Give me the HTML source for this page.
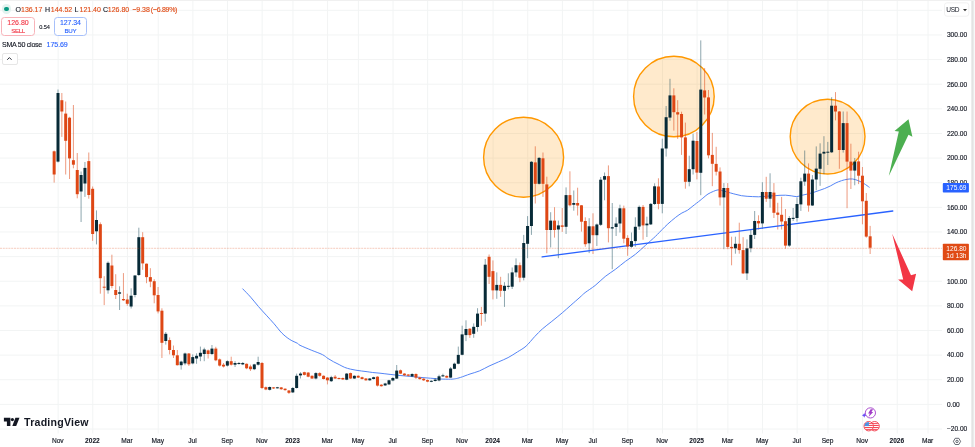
<!DOCTYPE html>
<html><head><meta charset="utf-8"><title>SOL chart</title>
<style>html,body{margin:0;padding:0;background:#fff;}body{width:975px;height:447px;position:relative;overflow:hidden;}</style>
</head><body>
<svg width="975" height="447" viewBox="0 0 975 447" style="position:absolute;left:0;top:0">
<rect x="0" y="0" width="975" height="447" fill="#ffffff"/>
<line x1="0" y1="10.32" x2="942" y2="10.32" stroke="#f2f4f4" stroke-width="1"/>
<line x1="0" y1="34.95" x2="942" y2="34.95" stroke="#f2f4f4" stroke-width="1"/>
<line x1="0" y1="59.58" x2="942" y2="59.58" stroke="#f2f4f4" stroke-width="1"/>
<line x1="0" y1="84.21" x2="942" y2="84.21" stroke="#f2f4f4" stroke-width="1"/>
<line x1="0" y1="108.83" x2="942" y2="108.83" stroke="#f2f4f4" stroke-width="1"/>
<line x1="0" y1="133.46" x2="942" y2="133.46" stroke="#f2f4f4" stroke-width="1"/>
<line x1="0" y1="158.09" x2="942" y2="158.09" stroke="#f2f4f4" stroke-width="1"/>
<line x1="0" y1="182.72" x2="942" y2="182.72" stroke="#f2f4f4" stroke-width="1"/>
<line x1="0" y1="207.35" x2="942" y2="207.35" stroke="#f2f4f4" stroke-width="1"/>
<line x1="0" y1="231.97" x2="942" y2="231.97" stroke="#f2f4f4" stroke-width="1"/>
<line x1="0" y1="256.60" x2="942" y2="256.60" stroke="#f2f4f4" stroke-width="1"/>
<line x1="0" y1="281.23" x2="942" y2="281.23" stroke="#f2f4f4" stroke-width="1"/>
<line x1="0" y1="305.86" x2="942" y2="305.86" stroke="#f2f4f4" stroke-width="1"/>
<line x1="0" y1="330.49" x2="942" y2="330.49" stroke="#f2f4f4" stroke-width="1"/>
<line x1="0" y1="355.11" x2="942" y2="355.11" stroke="#f2f4f4" stroke-width="1"/>
<line x1="0" y1="379.74" x2="942" y2="379.74" stroke="#f2f4f4" stroke-width="1"/>
<line x1="0" y1="404.37" x2="942" y2="404.37" stroke="#f2f4f4" stroke-width="1"/>
<line x1="0" y1="429.00" x2="942" y2="429.00" stroke="#f2f4f4" stroke-width="1"/>
<line x1="58.15" y1="1" x2="58.15" y2="433.5" stroke="#f2f4f4" stroke-width="1"/>
<line x1="92.79" y1="1" x2="92.79" y2="433.5" stroke="#f2f4f4" stroke-width="1"/>
<line x1="127.43" y1="1" x2="127.43" y2="433.5" stroke="#f2f4f4" stroke-width="1"/>
<line x1="158.22" y1="1" x2="158.22" y2="433.5" stroke="#f2f4f4" stroke-width="1"/>
<line x1="192.87" y1="1" x2="192.87" y2="433.5" stroke="#f2f4f4" stroke-width="1"/>
<line x1="227.51" y1="1" x2="227.51" y2="433.5" stroke="#f2f4f4" stroke-width="1"/>
<line x1="262.15" y1="1" x2="262.15" y2="433.5" stroke="#f2f4f4" stroke-width="1"/>
<line x1="292.94" y1="1" x2="292.94" y2="433.5" stroke="#f2f4f4" stroke-width="1"/>
<line x1="327.58" y1="1" x2="327.58" y2="433.5" stroke="#f2f4f4" stroke-width="1"/>
<line x1="358.37" y1="1" x2="358.37" y2="433.5" stroke="#f2f4f4" stroke-width="1"/>
<line x1="393.01" y1="1" x2="393.01" y2="433.5" stroke="#f2f4f4" stroke-width="1"/>
<line x1="427.65" y1="1" x2="427.65" y2="433.5" stroke="#f2f4f4" stroke-width="1"/>
<line x1="462.30" y1="1" x2="462.30" y2="433.5" stroke="#f2f4f4" stroke-width="1"/>
<line x1="493.09" y1="1" x2="493.09" y2="433.5" stroke="#f2f4f4" stroke-width="1"/>
<line x1="527.73" y1="1" x2="527.73" y2="433.5" stroke="#f2f4f4" stroke-width="1"/>
<line x1="562.37" y1="1" x2="562.37" y2="433.5" stroke="#f2f4f4" stroke-width="1"/>
<line x1="593.16" y1="1" x2="593.16" y2="433.5" stroke="#f2f4f4" stroke-width="1"/>
<line x1="627.80" y1="1" x2="627.80" y2="433.5" stroke="#f2f4f4" stroke-width="1"/>
<line x1="662.44" y1="1" x2="662.44" y2="433.5" stroke="#f2f4f4" stroke-width="1"/>
<line x1="697.08" y1="1" x2="697.08" y2="433.5" stroke="#f2f4f4" stroke-width="1"/>
<line x1="727.88" y1="1" x2="727.88" y2="433.5" stroke="#f2f4f4" stroke-width="1"/>
<line x1="762.52" y1="1" x2="762.52" y2="433.5" stroke="#f2f4f4" stroke-width="1"/>
<line x1="797.16" y1="1" x2="797.16" y2="433.5" stroke="#f2f4f4" stroke-width="1"/>
<line x1="827.95" y1="1" x2="827.95" y2="433.5" stroke="#f2f4f4" stroke-width="1"/>
<line x1="862.59" y1="1" x2="862.59" y2="433.5" stroke="#f2f4f4" stroke-width="1"/>
<line x1="897.23" y1="1" x2="897.23" y2="433.5" stroke="#f2f4f4" stroke-width="1"/>
<line x1="928.02" y1="1" x2="928.02" y2="433.5" stroke="#f2f4f4" stroke-width="1"/>
<circle cx="523.6" cy="157.2" r="40.0" fill="rgba(255,152,0,0.2)" stroke="#ff9800" stroke-width="1.4"/>
<circle cx="673.9" cy="96.5" r="40.3" fill="rgba(255,152,0,0.2)" stroke="#ff9800" stroke-width="1.4"/>
<circle cx="827.6" cy="136.6" r="37.4" fill="rgba(255,152,0,0.2)" stroke="#ff9800" stroke-width="1.4"/>
<path d="M242.50,288.60 C243.87,290.03 248.03,294.20 250.70,297.20 C253.37,300.20 255.90,303.60 258.50,306.60 C261.10,309.60 263.70,312.33 266.30,315.20 C268.90,318.07 271.48,320.80 274.10,323.80 C276.72,326.80 279.38,330.58 282.00,333.20 C284.62,335.82 287.20,337.80 289.80,339.50 C292.40,341.20 295.90,342.43 297.60,343.40 C299.30,344.37 297.73,344.18 300.00,345.30 C302.27,346.42 307.47,348.55 311.20,350.10 C314.93,351.65 319.60,353.20 322.40,354.60 C325.20,356.00 326.13,357.30 328.00,358.50 C329.87,359.70 331.73,360.78 333.60,361.80 C335.47,362.82 337.35,363.67 339.20,364.60 C341.05,365.53 342.85,366.65 344.70,367.40 C346.55,368.15 348.43,368.63 350.30,369.10 C352.17,369.57 354.03,369.88 355.90,370.20 C357.77,370.52 359.63,370.75 361.50,371.00 C363.37,371.25 365.23,371.45 367.10,371.70 C368.97,371.95 370.55,372.25 372.70,372.50 C374.85,372.75 377.10,372.88 380.00,373.20 C382.90,373.52 386.75,374.02 390.10,374.40 C393.45,374.78 396.75,375.17 400.10,375.50 C403.45,375.83 406.83,376.08 410.20,376.40 C413.57,376.72 416.95,377.10 420.30,377.40 C423.65,377.70 426.95,377.93 430.30,378.20 C433.65,378.47 437.03,378.83 440.40,379.00 C443.77,379.17 447.98,379.25 450.50,379.20 C453.02,379.15 453.82,379.00 455.50,378.70 C457.18,378.40 458.18,378.18 460.60,377.40 C463.02,376.62 466.85,375.08 470.00,374.00 C473.15,372.92 476.33,372.22 479.50,370.90 C482.67,369.58 485.83,367.60 489.00,366.10 C492.17,364.60 495.32,363.32 498.50,361.90 C501.68,360.48 504.92,359.28 508.10,357.60 C511.28,355.92 514.60,353.72 517.60,351.80 C520.60,349.88 523.25,348.63 526.10,346.10 C528.95,343.57 532.00,339.45 534.70,336.60 C537.40,333.75 539.45,331.53 542.30,329.00 C545.15,326.47 548.47,324.10 551.80,321.40 C555.13,318.70 559.12,315.50 562.30,312.80 C565.48,310.10 567.95,307.80 570.90,305.20 C573.85,302.60 577.63,299.30 580.00,297.20 C582.37,295.10 582.58,294.55 585.10,292.60 C587.62,290.65 591.75,288.18 595.10,285.50 C598.45,282.82 601.83,279.18 605.20,276.50 C608.57,273.82 611.93,271.92 615.30,269.40 C618.67,266.88 622.05,263.92 625.40,261.40 C628.75,258.88 632.05,256.98 635.40,254.30 C638.75,251.62 642.13,248.32 645.50,245.30 C648.87,242.28 652.80,238.85 655.60,236.20 C658.40,233.55 660.27,231.43 662.30,229.40 C664.33,227.37 665.57,226.02 667.80,224.00 C670.03,221.98 673.35,219.13 675.70,217.30 C678.05,215.47 679.95,214.17 681.90,213.00 C683.85,211.83 685.57,211.47 687.40,210.30 C689.23,209.13 690.80,207.63 692.90,206.00 C695.00,204.37 698.15,201.97 700.00,200.50 C701.85,199.03 702.67,198.28 704.00,197.20 C705.33,196.12 706.40,194.98 708.00,194.00 C709.60,193.02 711.93,191.98 713.60,191.30 C715.27,190.62 716.52,190.00 718.00,189.90 C719.48,189.80 720.45,190.20 722.50,190.70 C724.55,191.20 728.07,192.28 730.30,192.90 C732.53,193.52 734.03,193.93 735.90,194.40 C737.77,194.87 739.63,195.38 741.50,195.70 C743.37,196.02 745.23,196.15 747.10,196.30 C748.97,196.45 750.83,196.52 752.70,196.60 C754.57,196.68 756.43,196.82 758.30,196.80 C760.17,196.78 762.03,196.63 763.90,196.50 C765.77,196.37 767.63,196.13 769.50,196.00 C771.37,195.87 773.35,195.82 775.10,195.70 C776.85,195.58 778.25,195.38 780.00,195.30 C781.75,195.22 783.73,195.12 785.60,195.20 C787.47,195.28 789.33,195.57 791.20,195.80 C793.07,196.03 794.93,196.70 796.80,196.60 C798.67,196.50 800.53,195.65 802.40,195.20 C804.27,194.75 806.13,194.37 808.00,193.90 C809.87,193.43 811.75,192.97 813.60,192.40 C815.45,191.83 817.25,191.15 819.10,190.50 C820.95,189.85 822.83,189.25 824.70,188.50 C826.57,187.75 828.43,186.93 830.30,186.00 C832.17,185.07 834.03,183.78 835.90,182.90 C837.77,182.02 839.63,181.30 841.50,180.70 C843.37,180.10 845.23,179.58 847.10,179.30 C848.97,179.02 850.83,178.77 852.70,179.00 C854.57,179.23 856.43,179.95 858.30,180.70 C860.17,181.45 862.03,182.38 863.90,183.50 C865.77,184.62 868.57,186.75 869.50,187.40" fill="none" stroke="#5585f6" stroke-width="1.0" stroke-linejoin="round"/>
<line x1="54.15" y1="150.5" x2="54.15" y2="182.6" stroke="#de4715" stroke-opacity="0.55" stroke-width="1.0"/>
<line x1="58.00" y1="89.5" x2="58.00" y2="162.5" stroke="#1d5060" stroke-opacity="0.5" stroke-width="1.0"/>
<line x1="61.85" y1="93.0" x2="61.85" y2="136.9" stroke="#de4715" stroke-opacity="0.55" stroke-width="1.0"/>
<line x1="65.70" y1="101.5" x2="65.70" y2="174.5" stroke="#de4715" stroke-opacity="0.55" stroke-width="1.0"/>
<line x1="69.55" y1="116.8" x2="69.55" y2="179.0" stroke="#de4715" stroke-opacity="0.55" stroke-width="1.0"/>
<line x1="73.40" y1="105.0" x2="73.40" y2="168.3" stroke="#de4715" stroke-opacity="0.55" stroke-width="1.0"/>
<line x1="77.25" y1="153.0" x2="77.25" y2="198.3" stroke="#de4715" stroke-opacity="0.55" stroke-width="1.0"/>
<line x1="81.09" y1="171.5" x2="81.09" y2="222.0" stroke="#1d5060" stroke-opacity="0.5" stroke-width="1.0"/>
<line x1="84.94" y1="162.0" x2="84.94" y2="196.9" stroke="#1d5060" stroke-opacity="0.5" stroke-width="1.0"/>
<line x1="88.79" y1="152.5" x2="88.79" y2="198.7" stroke="#de4715" stroke-opacity="0.55" stroke-width="1.0"/>
<line x1="92.64" y1="186.5" x2="92.64" y2="240.8" stroke="#de4715" stroke-opacity="0.55" stroke-width="1.0"/>
<line x1="96.49" y1="210.4" x2="96.49" y2="244.4" stroke="#1d5060" stroke-opacity="0.5" stroke-width="1.0"/>
<line x1="100.34" y1="222.4" x2="100.34" y2="293.7" stroke="#de4715" stroke-opacity="0.55" stroke-width="1.0"/>
<line x1="104.19" y1="276.2" x2="104.19" y2="305.1" stroke="#de4715" stroke-opacity="0.55" stroke-width="1.0"/>
<line x1="108.04" y1="261.4" x2="108.04" y2="293.7" stroke="#1d5060" stroke-opacity="0.5" stroke-width="1.0"/>
<line x1="111.89" y1="254.7" x2="111.89" y2="288.3" stroke="#de4715" stroke-opacity="0.55" stroke-width="1.0"/>
<line x1="115.73" y1="274.2" x2="115.73" y2="299.0" stroke="#de4715" stroke-opacity="0.55" stroke-width="1.0"/>
<line x1="119.58" y1="286.3" x2="119.58" y2="310.0" stroke="#1d5060" stroke-opacity="0.5" stroke-width="1.0"/>
<line x1="123.43" y1="273.1" x2="123.43" y2="301.0" stroke="#de4715" stroke-opacity="0.55" stroke-width="1.0"/>
<line x1="127.28" y1="293.7" x2="127.28" y2="305.8" stroke="#de4715" stroke-opacity="0.55" stroke-width="1.0"/>
<line x1="131.13" y1="288.3" x2="131.13" y2="308.5" stroke="#1d5060" stroke-opacity="0.5" stroke-width="1.0"/>
<line x1="134.98" y1="275.0" x2="134.98" y2="297.3" stroke="#1d5060" stroke-opacity="0.5" stroke-width="1.0"/>
<line x1="138.83" y1="227.7" x2="138.83" y2="276.0" stroke="#1d5060" stroke-opacity="0.5" stroke-width="1.0"/>
<line x1="142.68" y1="232.2" x2="142.68" y2="269.8" stroke="#de4715" stroke-opacity="0.55" stroke-width="1.0"/>
<line x1="146.53" y1="263.5" x2="146.53" y2="283.2" stroke="#de4715" stroke-opacity="0.55" stroke-width="1.0"/>
<line x1="150.38" y1="268.2" x2="150.38" y2="287.2" stroke="#de4715" stroke-opacity="0.55" stroke-width="1.0"/>
<line x1="154.23" y1="279.2" x2="154.23" y2="303.3" stroke="#de4715" stroke-opacity="0.55" stroke-width="1.0"/>
<line x1="158.07" y1="287.0" x2="158.07" y2="313.4" stroke="#de4715" stroke-opacity="0.55" stroke-width="1.0"/>
<line x1="161.92" y1="308.3" x2="161.92" y2="358.0" stroke="#de4715" stroke-opacity="0.55" stroke-width="1.0"/>
<line x1="165.77" y1="332.0" x2="165.77" y2="344.6" stroke="#1d5060" stroke-opacity="0.5" stroke-width="1.0"/>
<line x1="169.62" y1="337.4" x2="169.62" y2="354.4" stroke="#de4715" stroke-opacity="0.55" stroke-width="1.0"/>
<line x1="173.47" y1="345.5" x2="173.47" y2="358.0" stroke="#de4715" stroke-opacity="0.55" stroke-width="1.0"/>
<line x1="177.32" y1="350.0" x2="177.32" y2="365.5" stroke="#de4715" stroke-opacity="0.55" stroke-width="1.0"/>
<line x1="181.17" y1="360.7" x2="181.17" y2="369.6" stroke="#1d5060" stroke-opacity="0.5" stroke-width="1.0"/>
<line x1="185.02" y1="352.6" x2="185.02" y2="365.2" stroke="#1d5060" stroke-opacity="0.5" stroke-width="1.0"/>
<line x1="188.87" y1="353.0" x2="188.87" y2="366.0" stroke="#de4715" stroke-opacity="0.55" stroke-width="1.0"/>
<line x1="192.72" y1="354.4" x2="192.72" y2="364.3" stroke="#1d5060" stroke-opacity="0.5" stroke-width="1.0"/>
<line x1="196.56" y1="353.3" x2="196.56" y2="363.8" stroke="#1d5060" stroke-opacity="0.5" stroke-width="1.0"/>
<line x1="200.41" y1="346.6" x2="200.41" y2="361.2" stroke="#1d5060" stroke-opacity="0.5" stroke-width="1.0"/>
<line x1="204.26" y1="347.7" x2="204.26" y2="361.2" stroke="#1d5060" stroke-opacity="0.5" stroke-width="1.0"/>
<line x1="208.11" y1="349.5" x2="208.11" y2="358.5" stroke="#de4715" stroke-opacity="0.55" stroke-width="1.0"/>
<line x1="211.96" y1="345.0" x2="211.96" y2="355.0" stroke="#1d5060" stroke-opacity="0.5" stroke-width="1.0"/>
<line x1="215.81" y1="346.8" x2="215.81" y2="361.2" stroke="#de4715" stroke-opacity="0.55" stroke-width="1.0"/>
<line x1="219.66" y1="358.5" x2="219.66" y2="366.5" stroke="#de4715" stroke-opacity="0.55" stroke-width="1.0"/>
<line x1="223.51" y1="363.0" x2="223.51" y2="367.5" stroke="#de4715" stroke-opacity="0.55" stroke-width="1.0"/>
<line x1="227.36" y1="360.3" x2="227.36" y2="366.5" stroke="#1d5060" stroke-opacity="0.5" stroke-width="1.0"/>
<line x1="231.21" y1="356.7" x2="231.21" y2="365.6" stroke="#de4715" stroke-opacity="0.55" stroke-width="1.0"/>
<line x1="235.05" y1="361.2" x2="235.05" y2="367.0" stroke="#1d5060" stroke-opacity="0.5" stroke-width="1.0"/>
<line x1="238.90" y1="362.0" x2="238.90" y2="364.7" stroke="#1d5060" stroke-opacity="0.5" stroke-width="1.0"/>
<line x1="242.75" y1="362.0" x2="242.75" y2="365.1" stroke="#1d5060" stroke-opacity="0.5" stroke-width="1.0"/>
<line x1="246.60" y1="363.4" x2="246.60" y2="369.2" stroke="#de4715" stroke-opacity="0.55" stroke-width="1.0"/>
<line x1="250.45" y1="364.7" x2="250.45" y2="371.0" stroke="#de4715" stroke-opacity="0.55" stroke-width="1.0"/>
<line x1="254.30" y1="363.8" x2="254.30" y2="370.1" stroke="#1d5060" stroke-opacity="0.5" stroke-width="1.0"/>
<line x1="258.15" y1="356.7" x2="258.15" y2="365.6" stroke="#1d5060" stroke-opacity="0.5" stroke-width="1.0"/>
<line x1="262.00" y1="362.0" x2="262.00" y2="389.0" stroke="#de4715" stroke-opacity="0.55" stroke-width="1.0"/>
<line x1="265.85" y1="386.5" x2="265.85" y2="390.2" stroke="#de4715" stroke-opacity="0.55" stroke-width="1.0"/>
<line x1="269.70" y1="386.5" x2="269.70" y2="390.5" stroke="#1d5060" stroke-opacity="0.5" stroke-width="1.0"/>
<line x1="273.54" y1="387.0" x2="273.54" y2="389.0" stroke="#de4715" stroke-opacity="0.55" stroke-width="1.0"/>
<line x1="277.39" y1="386.9" x2="277.39" y2="388.5" stroke="#1d5060" stroke-opacity="0.5" stroke-width="1.0"/>
<line x1="281.24" y1="387.0" x2="281.24" y2="389.8" stroke="#de4715" stroke-opacity="0.55" stroke-width="1.0"/>
<line x1="285.09" y1="388.3" x2="285.09" y2="390.8" stroke="#de4715" stroke-opacity="0.55" stroke-width="1.0"/>
<line x1="288.94" y1="390.0" x2="288.94" y2="394.0" stroke="#de4715" stroke-opacity="0.55" stroke-width="1.0"/>
<line x1="292.79" y1="387.0" x2="292.79" y2="393.0" stroke="#1d5060" stroke-opacity="0.5" stroke-width="1.0"/>
<line x1="296.64" y1="373.6" x2="296.64" y2="388.5" stroke="#1d5060" stroke-opacity="0.5" stroke-width="1.0"/>
<line x1="300.49" y1="372.2" x2="300.49" y2="378.5" stroke="#1d5060" stroke-opacity="0.5" stroke-width="1.0"/>
<line x1="304.34" y1="371.7" x2="304.34" y2="375.5" stroke="#de4715" stroke-opacity="0.55" stroke-width="1.0"/>
<line x1="308.19" y1="372.0" x2="308.19" y2="377.3" stroke="#de4715" stroke-opacity="0.55" stroke-width="1.0"/>
<line x1="312.03" y1="375.3" x2="312.03" y2="379.0" stroke="#de4715" stroke-opacity="0.55" stroke-width="1.0"/>
<line x1="315.88" y1="372.2" x2="315.88" y2="379.4" stroke="#1d5060" stroke-opacity="0.5" stroke-width="1.0"/>
<line x1="319.73" y1="372.2" x2="319.73" y2="376.7" stroke="#de4715" stroke-opacity="0.55" stroke-width="1.0"/>
<line x1="323.58" y1="375.3" x2="323.58" y2="379.5" stroke="#de4715" stroke-opacity="0.55" stroke-width="1.0"/>
<line x1="327.43" y1="377.0" x2="327.43" y2="384.4" stroke="#de4715" stroke-opacity="0.55" stroke-width="1.0"/>
<line x1="331.28" y1="375.8" x2="331.28" y2="382.0" stroke="#1d5060" stroke-opacity="0.5" stroke-width="1.0"/>
<line x1="335.13" y1="375.0" x2="335.13" y2="379.0" stroke="#de4715" stroke-opacity="0.55" stroke-width="1.0"/>
<line x1="338.98" y1="377.5" x2="338.98" y2="379.5" stroke="#de4715" stroke-opacity="0.55" stroke-width="1.0"/>
<line x1="342.83" y1="377.5" x2="342.83" y2="380.0" stroke="#de4715" stroke-opacity="0.55" stroke-width="1.0"/>
<line x1="346.68" y1="373.0" x2="346.68" y2="380.2" stroke="#1d5060" stroke-opacity="0.5" stroke-width="1.0"/>
<line x1="350.52" y1="372.6" x2="350.52" y2="379.0" stroke="#de4715" stroke-opacity="0.55" stroke-width="1.0"/>
<line x1="354.37" y1="375.3" x2="354.37" y2="379.0" stroke="#1d5060" stroke-opacity="0.5" stroke-width="1.0"/>
<line x1="358.22" y1="375.3" x2="358.22" y2="378.0" stroke="#de4715" stroke-opacity="0.55" stroke-width="1.0"/>
<line x1="362.07" y1="376.7" x2="362.07" y2="379.5" stroke="#de4715" stroke-opacity="0.55" stroke-width="1.0"/>
<line x1="365.92" y1="378.0" x2="365.92" y2="380.8" stroke="#de4715" stroke-opacity="0.55" stroke-width="1.0"/>
<line x1="369.77" y1="378.0" x2="369.77" y2="380.8" stroke="#1d5060" stroke-opacity="0.5" stroke-width="1.0"/>
<line x1="373.62" y1="376.7" x2="373.62" y2="379.5" stroke="#1d5060" stroke-opacity="0.5" stroke-width="1.0"/>
<line x1="377.47" y1="376.2" x2="377.47" y2="386.5" stroke="#de4715" stroke-opacity="0.55" stroke-width="1.0"/>
<line x1="381.32" y1="384.2" x2="381.32" y2="386.7" stroke="#de4715" stroke-opacity="0.55" stroke-width="1.0"/>
<line x1="385.17" y1="382.8" x2="385.17" y2="386.0" stroke="#1d5060" stroke-opacity="0.5" stroke-width="1.0"/>
<line x1="389.01" y1="379.8" x2="389.01" y2="384.9" stroke="#1d5060" stroke-opacity="0.5" stroke-width="1.0"/>
<line x1="392.86" y1="377.1" x2="392.86" y2="381.3" stroke="#1d5060" stroke-opacity="0.5" stroke-width="1.0"/>
<line x1="396.71" y1="365.0" x2="396.71" y2="379.0" stroke="#1d5060" stroke-opacity="0.5" stroke-width="1.0"/>
<line x1="400.56" y1="369.5" x2="400.56" y2="374.1" stroke="#de4715" stroke-opacity="0.55" stroke-width="1.0"/>
<line x1="404.41" y1="373.1" x2="404.41" y2="375.9" stroke="#de4715" stroke-opacity="0.55" stroke-width="1.0"/>
<line x1="408.26" y1="374.1" x2="408.26" y2="376.3" stroke="#de4715" stroke-opacity="0.55" stroke-width="1.0"/>
<line x1="412.11" y1="373.2" x2="412.11" y2="377.0" stroke="#1d5060" stroke-opacity="0.5" stroke-width="1.0"/>
<line x1="415.96" y1="373.3" x2="415.96" y2="379.0" stroke="#de4715" stroke-opacity="0.55" stroke-width="1.0"/>
<line x1="419.81" y1="376.8" x2="419.81" y2="379.6" stroke="#de4715" stroke-opacity="0.55" stroke-width="1.0"/>
<line x1="423.66" y1="378.2" x2="423.66" y2="381.0" stroke="#de4715" stroke-opacity="0.55" stroke-width="1.0"/>
<line x1="427.50" y1="379.5" x2="427.50" y2="382.2" stroke="#de4715" stroke-opacity="0.55" stroke-width="1.0"/>
<line x1="431.35" y1="380.3" x2="431.35" y2="382.2" stroke="#1d5060" stroke-opacity="0.5" stroke-width="1.0"/>
<line x1="435.20" y1="378.0" x2="435.20" y2="381.5" stroke="#1d5060" stroke-opacity="0.5" stroke-width="1.0"/>
<line x1="439.05" y1="374.7" x2="439.05" y2="381.3" stroke="#1d5060" stroke-opacity="0.5" stroke-width="1.0"/>
<line x1="442.90" y1="373.7" x2="442.90" y2="376.9" stroke="#1d5060" stroke-opacity="0.5" stroke-width="1.0"/>
<line x1="446.75" y1="375.3" x2="446.75" y2="378.1" stroke="#de4715" stroke-opacity="0.55" stroke-width="1.0"/>
<line x1="450.60" y1="367.0" x2="450.60" y2="378.1" stroke="#1d5060" stroke-opacity="0.5" stroke-width="1.0"/>
<line x1="454.45" y1="362.6" x2="454.45" y2="369.2" stroke="#1d5060" stroke-opacity="0.5" stroke-width="1.0"/>
<line x1="458.30" y1="346.6" x2="458.30" y2="364.3" stroke="#1d5060" stroke-opacity="0.5" stroke-width="1.0"/>
<line x1="462.15" y1="325.7" x2="462.15" y2="355.4" stroke="#1d5060" stroke-opacity="0.5" stroke-width="1.0"/>
<line x1="465.99" y1="320.3" x2="465.99" y2="341.1" stroke="#1d5060" stroke-opacity="0.5" stroke-width="1.0"/>
<line x1="469.84" y1="328.2" x2="469.84" y2="337.9" stroke="#de4715" stroke-opacity="0.55" stroke-width="1.0"/>
<line x1="473.69" y1="323.4" x2="473.69" y2="337.8" stroke="#1d5060" stroke-opacity="0.5" stroke-width="1.0"/>
<line x1="477.54" y1="308.2" x2="477.54" y2="331.7" stroke="#1d5060" stroke-opacity="0.5" stroke-width="1.0"/>
<line x1="481.39" y1="306.9" x2="481.39" y2="325.7" stroke="#de4715" stroke-opacity="0.55" stroke-width="1.0"/>
<line x1="485.24" y1="259.0" x2="485.24" y2="321.7" stroke="#1d5060" stroke-opacity="0.5" stroke-width="1.0"/>
<line x1="489.09" y1="254.5" x2="489.09" y2="284.0" stroke="#de4715" stroke-opacity="0.55" stroke-width="1.0"/>
<line x1="492.94" y1="260.4" x2="492.94" y2="299.4" stroke="#de4715" stroke-opacity="0.55" stroke-width="1.0"/>
<line x1="496.79" y1="272.4" x2="496.79" y2="298.8" stroke="#1d5060" stroke-opacity="0.5" stroke-width="1.0"/>
<line x1="500.64" y1="276.8" x2="500.64" y2="296.9" stroke="#de4715" stroke-opacity="0.55" stroke-width="1.0"/>
<line x1="504.48" y1="282.2" x2="504.48" y2="306.9" stroke="#1d5060" stroke-opacity="0.5" stroke-width="1.0"/>
<line x1="508.33" y1="273.3" x2="508.33" y2="289.4" stroke="#1d5060" stroke-opacity="0.5" stroke-width="1.0"/>
<line x1="512.18" y1="267.5" x2="512.18" y2="289.0" stroke="#1d5060" stroke-opacity="0.5" stroke-width="1.0"/>
<line x1="516.03" y1="258.4" x2="516.03" y2="276.8" stroke="#1d5060" stroke-opacity="0.5" stroke-width="1.0"/>
<line x1="519.88" y1="262.5" x2="519.88" y2="282.2" stroke="#de4715" stroke-opacity="0.55" stroke-width="1.0"/>
<line x1="523.73" y1="234.9" x2="523.73" y2="280.4" stroke="#1d5060" stroke-opacity="0.5" stroke-width="1.0"/>
<line x1="527.58" y1="216.1" x2="527.58" y2="258.2" stroke="#1d5060" stroke-opacity="0.5" stroke-width="1.0"/>
<line x1="531.43" y1="161.0" x2="531.43" y2="234.9" stroke="#1d5060" stroke-opacity="0.5" stroke-width="1.0"/>
<line x1="535.28" y1="146.3" x2="535.28" y2="203.5" stroke="#de4715" stroke-opacity="0.55" stroke-width="1.0"/>
<line x1="539.12" y1="157.0" x2="539.12" y2="184.5" stroke="#1d5060" stroke-opacity="0.5" stroke-width="1.0"/>
<line x1="542.97" y1="152.5" x2="542.97" y2="196.9" stroke="#de4715" stroke-opacity="0.55" stroke-width="1.0"/>
<line x1="546.82" y1="176.7" x2="546.82" y2="253.3" stroke="#de4715" stroke-opacity="0.55" stroke-width="1.0"/>
<line x1="550.67" y1="212.2" x2="550.67" y2="247.4" stroke="#1d5060" stroke-opacity="0.5" stroke-width="1.0"/>
<line x1="554.52" y1="207.2" x2="554.52" y2="237.6" stroke="#de4715" stroke-opacity="0.55" stroke-width="1.0"/>
<line x1="558.37" y1="220.6" x2="558.37" y2="258.2" stroke="#1d5060" stroke-opacity="0.5" stroke-width="1.0"/>
<line x1="562.22" y1="208.0" x2="562.22" y2="231.9" stroke="#de4715" stroke-opacity="0.55" stroke-width="1.0"/>
<line x1="566.07" y1="187.4" x2="566.07" y2="234.0" stroke="#1d5060" stroke-opacity="0.5" stroke-width="1.0"/>
<line x1="569.92" y1="171.3" x2="569.92" y2="206.5" stroke="#de4715" stroke-opacity="0.55" stroke-width="1.0"/>
<line x1="573.77" y1="190.5" x2="573.77" y2="210.7" stroke="#1d5060" stroke-opacity="0.5" stroke-width="1.0"/>
<line x1="577.62" y1="187.7" x2="577.62" y2="215.5" stroke="#de4715" stroke-opacity="0.55" stroke-width="1.0"/>
<line x1="581.46" y1="205.0" x2="581.46" y2="231.6" stroke="#de4715" stroke-opacity="0.55" stroke-width="1.0"/>
<line x1="585.31" y1="217.3" x2="585.31" y2="246.8" stroke="#de4715" stroke-opacity="0.55" stroke-width="1.0"/>
<line x1="589.16" y1="218.2" x2="589.16" y2="253.1" stroke="#1d5060" stroke-opacity="0.5" stroke-width="1.0"/>
<line x1="593.01" y1="213.3" x2="593.01" y2="254.0" stroke="#de4715" stroke-opacity="0.55" stroke-width="1.0"/>
<line x1="596.86" y1="223.5" x2="596.86" y2="246.0" stroke="#1d5060" stroke-opacity="0.5" stroke-width="1.0"/>
<line x1="600.71" y1="177.0" x2="600.71" y2="226.0" stroke="#1d5060" stroke-opacity="0.5" stroke-width="1.0"/>
<line x1="604.56" y1="172.5" x2="604.56" y2="200.3" stroke="#1d5060" stroke-opacity="0.5" stroke-width="1.0"/>
<line x1="608.41" y1="165.4" x2="608.41" y2="242.4" stroke="#de4715" stroke-opacity="0.55" stroke-width="1.0"/>
<line x1="612.26" y1="203.0" x2="612.26" y2="269.2" stroke="#1d5060" stroke-opacity="0.5" stroke-width="1.0"/>
<line x1="616.11" y1="217.3" x2="616.11" y2="236.0" stroke="#1d5060" stroke-opacity="0.5" stroke-width="1.0"/>
<line x1="619.95" y1="204.7" x2="619.95" y2="232.5" stroke="#1d5060" stroke-opacity="0.5" stroke-width="1.0"/>
<line x1="623.80" y1="205.6" x2="623.80" y2="243.3" stroke="#de4715" stroke-opacity="0.55" stroke-width="1.0"/>
<line x1="627.65" y1="235.2" x2="627.65" y2="255.8" stroke="#de4715" stroke-opacity="0.55" stroke-width="1.0"/>
<line x1="631.50" y1="232.5" x2="631.50" y2="247.7" stroke="#1d5060" stroke-opacity="0.5" stroke-width="1.0"/>
<line x1="635.35" y1="217.3" x2="635.35" y2="246.8" stroke="#1d5060" stroke-opacity="0.5" stroke-width="1.0"/>
<line x1="639.20" y1="205.5" x2="639.20" y2="229.8" stroke="#1d5060" stroke-opacity="0.5" stroke-width="1.0"/>
<line x1="643.05" y1="205.0" x2="643.05" y2="239.7" stroke="#de4715" stroke-opacity="0.55" stroke-width="1.0"/>
<line x1="646.90" y1="216.7" x2="646.90" y2="237.0" stroke="#1d5060" stroke-opacity="0.5" stroke-width="1.0"/>
<line x1="650.75" y1="203.0" x2="650.75" y2="225.0" stroke="#1d5060" stroke-opacity="0.5" stroke-width="1.0"/>
<line x1="654.60" y1="183.3" x2="654.60" y2="205.0" stroke="#1d5060" stroke-opacity="0.5" stroke-width="1.0"/>
<line x1="658.44" y1="178.3" x2="658.44" y2="209.3" stroke="#de4715" stroke-opacity="0.55" stroke-width="1.0"/>
<line x1="662.29" y1="138.7" x2="662.29" y2="213.3" stroke="#1d5060" stroke-opacity="0.5" stroke-width="1.0"/>
<line x1="666.14" y1="106.0" x2="666.14" y2="156.6" stroke="#1d5060" stroke-opacity="0.5" stroke-width="1.0"/>
<line x1="669.99" y1="78.8" x2="669.99" y2="120.8" stroke="#1d5060" stroke-opacity="0.5" stroke-width="1.0"/>
<line x1="673.84" y1="88.3" x2="673.84" y2="130.6" stroke="#de4715" stroke-opacity="0.55" stroke-width="1.0"/>
<line x1="677.69" y1="100.2" x2="677.69" y2="138.9" stroke="#de4715" stroke-opacity="0.55" stroke-width="1.0"/>
<line x1="681.54" y1="111.7" x2="681.54" y2="154.9" stroke="#de4715" stroke-opacity="0.55" stroke-width="1.0"/>
<line x1="685.39" y1="122.6" x2="685.39" y2="188.7" stroke="#de4715" stroke-opacity="0.55" stroke-width="1.0"/>
<line x1="689.24" y1="155.7" x2="689.24" y2="186.3" stroke="#1d5060" stroke-opacity="0.5" stroke-width="1.0"/>
<line x1="693.09" y1="133.7" x2="693.09" y2="174.5" stroke="#1d5060" stroke-opacity="0.5" stroke-width="1.0"/>
<line x1="696.93" y1="132.0" x2="696.93" y2="179.4" stroke="#de4715" stroke-opacity="0.55" stroke-width="1.0"/>
<line x1="700.78" y1="40.4" x2="700.78" y2="195.2" stroke="#1d5060" stroke-opacity="0.5" stroke-width="1.0"/>
<line x1="704.63" y1="68.1" x2="704.63" y2="114.5" stroke="#de4715" stroke-opacity="0.55" stroke-width="1.0"/>
<line x1="708.48" y1="90.0" x2="708.48" y2="158.4" stroke="#de4715" stroke-opacity="0.55" stroke-width="1.0"/>
<line x1="712.33" y1="132.9" x2="712.33" y2="186.2" stroke="#de4715" stroke-opacity="0.55" stroke-width="1.0"/>
<line x1="716.18" y1="146.8" x2="716.18" y2="175.5" stroke="#de4715" stroke-opacity="0.55" stroke-width="1.0"/>
<line x1="720.03" y1="167.4" x2="720.03" y2="205.5" stroke="#de4715" stroke-opacity="0.55" stroke-width="1.0"/>
<line x1="723.88" y1="183.1" x2="723.88" y2="249.2" stroke="#1d5060" stroke-opacity="0.5" stroke-width="1.0"/>
<line x1="727.73" y1="183.1" x2="727.73" y2="249.2" stroke="#de4715" stroke-opacity="0.55" stroke-width="1.0"/>
<line x1="731.58" y1="236.7" x2="731.58" y2="265.3" stroke="#de4715" stroke-opacity="0.55" stroke-width="1.0"/>
<line x1="735.42" y1="236.7" x2="735.42" y2="253.7" stroke="#1d5060" stroke-opacity="0.5" stroke-width="1.0"/>
<line x1="739.27" y1="222.7" x2="739.27" y2="253.7" stroke="#de4715" stroke-opacity="0.55" stroke-width="1.0"/>
<line x1="743.12" y1="237.2" x2="743.12" y2="274.0" stroke="#de4715" stroke-opacity="0.55" stroke-width="1.0"/>
<line x1="746.97" y1="239.4" x2="746.97" y2="280.0" stroke="#1d5060" stroke-opacity="0.5" stroke-width="1.0"/>
<line x1="750.82" y1="229.5" x2="750.82" y2="252.3" stroke="#1d5060" stroke-opacity="0.5" stroke-width="1.0"/>
<line x1="754.67" y1="211.0" x2="754.67" y2="239.0" stroke="#1d5060" stroke-opacity="0.5" stroke-width="1.0"/>
<line x1="758.52" y1="215.3" x2="758.52" y2="229.5" stroke="#de4715" stroke-opacity="0.55" stroke-width="1.0"/>
<line x1="762.37" y1="182.2" x2="762.37" y2="229.0" stroke="#1d5060" stroke-opacity="0.5" stroke-width="1.0"/>
<line x1="766.22" y1="176.8" x2="766.22" y2="201.9" stroke="#de4715" stroke-opacity="0.55" stroke-width="1.0"/>
<line x1="770.07" y1="173.3" x2="770.07" y2="207.6" stroke="#1d5060" stroke-opacity="0.5" stroke-width="1.0"/>
<line x1="773.91" y1="183.1" x2="773.91" y2="218.0" stroke="#de4715" stroke-opacity="0.55" stroke-width="1.0"/>
<line x1="777.76" y1="202.8" x2="777.76" y2="229.5" stroke="#de4715" stroke-opacity="0.55" stroke-width="1.0"/>
<line x1="781.61" y1="196.9" x2="781.61" y2="229.5" stroke="#de4715" stroke-opacity="0.55" stroke-width="1.0"/>
<line x1="785.46" y1="209.0" x2="785.46" y2="248.7" stroke="#de4715" stroke-opacity="0.55" stroke-width="1.0"/>
<line x1="789.31" y1="216.1" x2="789.31" y2="246.9" stroke="#1d5060" stroke-opacity="0.5" stroke-width="1.0"/>
<line x1="793.16" y1="208.0" x2="793.16" y2="221.0" stroke="#1d5060" stroke-opacity="0.5" stroke-width="1.0"/>
<line x1="797.01" y1="197.4" x2="797.01" y2="221.6" stroke="#1d5060" stroke-opacity="0.5" stroke-width="1.0"/>
<line x1="800.86" y1="177.7" x2="800.86" y2="210.9" stroke="#1d5060" stroke-opacity="0.5" stroke-width="1.0"/>
<line x1="804.71" y1="150.5" x2="804.71" y2="185.8" stroke="#1d5060" stroke-opacity="0.5" stroke-width="1.0"/>
<line x1="808.56" y1="163.4" x2="808.56" y2="211.7" stroke="#de4715" stroke-opacity="0.55" stroke-width="1.0"/>
<line x1="812.40" y1="175.1" x2="812.40" y2="206.0" stroke="#1d5060" stroke-opacity="0.5" stroke-width="1.0"/>
<line x1="816.25" y1="146.4" x2="816.25" y2="190.3" stroke="#1d5060" stroke-opacity="0.5" stroke-width="1.0"/>
<line x1="820.10" y1="143.3" x2="820.10" y2="185.8" stroke="#1d5060" stroke-opacity="0.5" stroke-width="1.0"/>
<line x1="823.95" y1="136.2" x2="823.95" y2="174.2" stroke="#1d5060" stroke-opacity="0.5" stroke-width="1.0"/>
<line x1="827.80" y1="141.9" x2="827.80" y2="165.0" stroke="#1d5060" stroke-opacity="0.5" stroke-width="1.0"/>
<line x1="831.65" y1="97.2" x2="831.65" y2="153.0" stroke="#1d5060" stroke-opacity="0.5" stroke-width="1.0"/>
<line x1="835.50" y1="92.1" x2="835.50" y2="120.4" stroke="#de4715" stroke-opacity="0.55" stroke-width="1.0"/>
<line x1="839.35" y1="111.0" x2="839.35" y2="168.8" stroke="#de4715" stroke-opacity="0.55" stroke-width="1.0"/>
<line x1="843.20" y1="111.5" x2="843.20" y2="152.6" stroke="#1d5060" stroke-opacity="0.5" stroke-width="1.0"/>
<line x1="847.05" y1="111.5" x2="847.05" y2="208.2" stroke="#de4715" stroke-opacity="0.55" stroke-width="1.0"/>
<line x1="850.89" y1="143.7" x2="850.89" y2="189.0" stroke="#de4715" stroke-opacity="0.55" stroke-width="1.0"/>
<line x1="854.74" y1="158.0" x2="854.74" y2="185.3" stroke="#1d5060" stroke-opacity="0.5" stroke-width="1.0"/>
<line x1="858.59" y1="151.7" x2="858.59" y2="184.1" stroke="#de4715" stroke-opacity="0.55" stroke-width="1.0"/>
<line x1="862.44" y1="167.0" x2="862.44" y2="224.3" stroke="#de4715" stroke-opacity="0.55" stroke-width="1.0"/>
<line x1="866.29" y1="193.0" x2="866.29" y2="237.7" stroke="#de4715" stroke-opacity="0.55" stroke-width="1.0"/>
<line x1="870.14" y1="225.9" x2="870.14" y2="254.0" stroke="#de4715" stroke-opacity="0.55" stroke-width="1.0"/>
<line x1="542.1" y1="256.9" x2="892.8" y2="211.0" stroke="#2962ff" stroke-width="1.3" stroke-linecap="round"/>
<rect x="52.65" y="151.3" width="3.0" height="23.20" fill="#de4715"/>
<rect x="56.50" y="93.0" width="3.0" height="68.60" fill="#072a37"/>
<rect x="60.35" y="100.2" width="3.0" height="11.30" fill="#de4715"/>
<rect x="64.20" y="113.6" width="3.0" height="27.20" fill="#de4715"/>
<rect x="68.05" y="117.7" width="3.0" height="40.70" fill="#de4715"/>
<rect x="71.90" y="160.2" width="3.0" height="4.50" fill="#de4715"/>
<rect x="75.75" y="170.0" width="3.0" height="24.20" fill="#de4715"/>
<rect x="79.59" y="175.0" width="3.0" height="16.50" fill="#072a37"/>
<rect x="83.44" y="167.9" width="3.0" height="15.60" fill="#072a37"/>
<rect x="87.29" y="161.1" width="3.0" height="33.90" fill="#de4715"/>
<rect x="91.14" y="188.8" width="3.0" height="45.20" fill="#de4715"/>
<rect x="94.99" y="220.0" width="3.0" height="11.30" fill="#072a37"/>
<rect x="98.84" y="224.2" width="3.0" height="54.00" fill="#de4715"/>
<rect x="102.69" y="286.7" width="3.0" height="1.00" fill="#de4715"/>
<rect x="106.54" y="262.8" width="3.0" height="27.50" fill="#072a37"/>
<rect x="110.39" y="265.5" width="3.0" height="20.50" fill="#de4715"/>
<rect x="114.23" y="290.0" width="3.0" height="5.00" fill="#de4715"/>
<rect x="118.08" y="292.3" width="3.0" height="1.40" fill="#072a37"/>
<rect x="121.93" y="299.0" width="3.0" height="1.30" fill="#de4715"/>
<rect x="125.78" y="299.5" width="3.0" height="4.30" fill="#de4715"/>
<rect x="129.63" y="295.7" width="3.0" height="10.80" fill="#072a37"/>
<rect x="133.48" y="275.5" width="3.0" height="19.50" fill="#072a37"/>
<rect x="137.33" y="237.2" width="3.0" height="37.80" fill="#072a37"/>
<rect x="141.18" y="237.2" width="3.0" height="26.20" fill="#de4715"/>
<rect x="145.03" y="263.7" width="3.0" height="13.40" fill="#de4715"/>
<rect x="148.88" y="277.1" width="3.0" height="4.50" fill="#de4715"/>
<rect x="152.73" y="281.2" width="3.0" height="14.10" fill="#de4715"/>
<rect x="156.57" y="295.0" width="3.0" height="16.40" fill="#de4715"/>
<rect x="160.42" y="310.7" width="3.0" height="32.10" fill="#de4715"/>
<rect x="164.27" y="333.8" width="3.0" height="7.20" fill="#072a37"/>
<rect x="168.12" y="340.1" width="3.0" height="9.90" fill="#de4715"/>
<rect x="171.97" y="350.0" width="3.0" height="5.30" fill="#de4715"/>
<rect x="175.82" y="355.3" width="3.0" height="9.90" fill="#de4715"/>
<rect x="179.67" y="361.6" width="3.0" height="3.60" fill="#072a37"/>
<rect x="183.52" y="353.5" width="3.0" height="9.90" fill="#072a37"/>
<rect x="187.37" y="353.5" width="3.0" height="10.80" fill="#de4715"/>
<rect x="191.22" y="357.1" width="3.0" height="6.30" fill="#072a37"/>
<rect x="195.06" y="355.8" width="3.0" height="2.70" fill="#072a37"/>
<rect x="198.91" y="352.8" width="3.0" height="3.70" fill="#072a37"/>
<rect x="202.76" y="349.5" width="3.0" height="4.50" fill="#072a37"/>
<rect x="206.61" y="350.4" width="3.0" height="3.60" fill="#de4715"/>
<rect x="210.46" y="348.6" width="3.0" height="5.40" fill="#072a37"/>
<rect x="214.31" y="348.6" width="3.0" height="11.70" fill="#de4715"/>
<rect x="218.16" y="359.4" width="3.0" height="6.20" fill="#de4715"/>
<rect x="222.01" y="364.7" width="3.0" height="1.80" fill="#de4715"/>
<rect x="225.86" y="361.2" width="3.0" height="4.40" fill="#072a37"/>
<rect x="229.71" y="361.2" width="3.0" height="3.50" fill="#de4715"/>
<rect x="233.55" y="363.0" width="3.0" height="1.70" fill="#072a37"/>
<rect x="237.40" y="363.0" width="3.0" height="1.00" fill="#072a37"/>
<rect x="241.25" y="363.0" width="3.0" height="1.40" fill="#072a37"/>
<rect x="245.10" y="363.8" width="3.0" height="4.50" fill="#de4715"/>
<rect x="248.95" y="366.5" width="3.0" height="2.70" fill="#de4715"/>
<rect x="252.80" y="364.4" width="3.0" height="4.80" fill="#072a37"/>
<rect x="256.65" y="362.0" width="3.0" height="2.70" fill="#072a37"/>
<rect x="260.50" y="363.0" width="3.0" height="25.00" fill="#de4715"/>
<rect x="264.35" y="387.2" width="3.0" height="2.30" fill="#de4715"/>
<rect x="268.20" y="387.0" width="3.0" height="2.80" fill="#072a37"/>
<rect x="272.04" y="387.4" width="3.0" height="1.00" fill="#de4715"/>
<rect x="275.89" y="387.3" width="3.0" height="1.00" fill="#072a37"/>
<rect x="279.74" y="387.4" width="3.0" height="1.80" fill="#de4715"/>
<rect x="283.59" y="388.7" width="3.0" height="1.40" fill="#de4715"/>
<rect x="287.44" y="390.5" width="3.0" height="2.30" fill="#de4715"/>
<rect x="291.29" y="388.0" width="3.0" height="4.40" fill="#072a37"/>
<rect x="295.14" y="375.8" width="3.0" height="12.20" fill="#072a37"/>
<rect x="298.99" y="373.6" width="3.0" height="1.80" fill="#072a37"/>
<rect x="302.84" y="372.2" width="3.0" height="2.70" fill="#de4715"/>
<rect x="306.69" y="372.6" width="3.0" height="4.10" fill="#de4715"/>
<rect x="310.53" y="375.8" width="3.0" height="2.70" fill="#de4715"/>
<rect x="314.38" y="373.1" width="3.0" height="5.40" fill="#072a37"/>
<rect x="318.23" y="373.1" width="3.0" height="2.70" fill="#de4715"/>
<rect x="322.08" y="375.8" width="3.0" height="3.20" fill="#de4715"/>
<rect x="325.93" y="377.6" width="3.0" height="2.70" fill="#de4715"/>
<rect x="329.78" y="377.2" width="3.0" height="4.00" fill="#072a37"/>
<rect x="333.63" y="376.7" width="3.0" height="1.80" fill="#de4715"/>
<rect x="337.48" y="378.0" width="3.0" height="1.00" fill="#de4715"/>
<rect x="341.33" y="378.0" width="3.0" height="1.40" fill="#de4715"/>
<rect x="345.18" y="373.6" width="3.0" height="6.10" fill="#072a37"/>
<rect x="349.02" y="373.1" width="3.0" height="5.40" fill="#de4715"/>
<rect x="352.87" y="375.8" width="3.0" height="2.70" fill="#072a37"/>
<rect x="356.72" y="375.8" width="3.0" height="1.80" fill="#de4715"/>
<rect x="360.57" y="377.2" width="3.0" height="1.80" fill="#de4715"/>
<rect x="364.42" y="378.5" width="3.0" height="1.80" fill="#de4715"/>
<rect x="368.27" y="378.5" width="3.0" height="1.80" fill="#072a37"/>
<rect x="372.12" y="377.2" width="3.0" height="1.80" fill="#072a37"/>
<rect x="375.97" y="376.7" width="3.0" height="8.90" fill="#de4715"/>
<rect x="379.82" y="384.7" width="3.0" height="1.50" fill="#de4715"/>
<rect x="383.67" y="383.5" width="3.0" height="1.90" fill="#072a37"/>
<rect x="387.51" y="380.3" width="3.0" height="4.10" fill="#072a37"/>
<rect x="391.36" y="378.0" width="3.0" height="2.50" fill="#072a37"/>
<rect x="395.21" y="370.6" width="3.0" height="8.00" fill="#072a37"/>
<rect x="399.06" y="370.3" width="3.0" height="3.30" fill="#de4715"/>
<rect x="402.91" y="373.6" width="3.0" height="1.70" fill="#de4715"/>
<rect x="406.76" y="374.5" width="3.0" height="1.20" fill="#de4715"/>
<rect x="410.61" y="374.0" width="3.0" height="2.40" fill="#072a37"/>
<rect x="414.46" y="374.0" width="3.0" height="3.60" fill="#de4715"/>
<rect x="418.31" y="377.5" width="3.0" height="1.60" fill="#de4715"/>
<rect x="422.16" y="378.7" width="3.0" height="1.60" fill="#de4715"/>
<rect x="426.00" y="380.1" width="3.0" height="1.50" fill="#de4715"/>
<rect x="429.85" y="380.8" width="3.0" height="1.00" fill="#072a37"/>
<rect x="433.70" y="379.6" width="3.0" height="1.40" fill="#072a37"/>
<rect x="437.55" y="376.3" width="3.0" height="4.20" fill="#072a37"/>
<rect x="441.40" y="375.3" width="3.0" height="1.10" fill="#072a37"/>
<rect x="445.25" y="375.9" width="3.0" height="1.70" fill="#de4715"/>
<rect x="449.10" y="368.5" width="3.0" height="9.10" fill="#072a37"/>
<rect x="452.95" y="363.7" width="3.0" height="5.10" fill="#072a37"/>
<rect x="456.80" y="354.9" width="3.0" height="8.80" fill="#072a37"/>
<rect x="460.65" y="334.4" width="3.0" height="20.40" fill="#072a37"/>
<rect x="464.49" y="329.0" width="3.0" height="6.10" fill="#072a37"/>
<rect x="468.34" y="328.7" width="3.0" height="6.40" fill="#de4715"/>
<rect x="472.19" y="326.8" width="3.0" height="7.00" fill="#072a37"/>
<rect x="476.04" y="313.6" width="3.0" height="13.40" fill="#072a37"/>
<rect x="479.89" y="313.0" width="3.0" height="1.00" fill="#de4715"/>
<rect x="483.74" y="264.7" width="3.0" height="48.90" fill="#072a37"/>
<rect x="487.59" y="256.8" width="3.0" height="20.00" fill="#de4715"/>
<rect x="491.44" y="271.1" width="3.0" height="19.30" fill="#de4715"/>
<rect x="495.29" y="284.9" width="3.0" height="5.50" fill="#072a37"/>
<rect x="499.14" y="284.9" width="3.0" height="5.90" fill="#de4715"/>
<rect x="502.98" y="285.8" width="3.0" height="5.00" fill="#072a37"/>
<rect x="506.83" y="285.8" width="3.0" height="1.00" fill="#072a37"/>
<rect x="510.68" y="272.4" width="3.0" height="14.30" fill="#072a37"/>
<rect x="514.53" y="265.2" width="3.0" height="7.20" fill="#072a37"/>
<rect x="518.38" y="265.2" width="3.0" height="12.50" fill="#de4715"/>
<rect x="522.23" y="243.0" width="3.0" height="34.70" fill="#072a37"/>
<rect x="526.08" y="226.0" width="3.0" height="17.80" fill="#072a37"/>
<rect x="529.93" y="161.8" width="3.0" height="64.20" fill="#072a37"/>
<rect x="533.78" y="162.4" width="3.0" height="21.40" fill="#de4715"/>
<rect x="537.62" y="157.9" width="3.0" height="25.90" fill="#072a37"/>
<rect x="541.47" y="158.3" width="3.0" height="25.50" fill="#de4715"/>
<rect x="545.32" y="184.4" width="3.0" height="45.60" fill="#de4715"/>
<rect x="549.17" y="220.6" width="3.0" height="9.40" fill="#072a37"/>
<rect x="553.02" y="220.6" width="3.0" height="9.40" fill="#de4715"/>
<rect x="556.87" y="225.4" width="3.0" height="4.10" fill="#072a37"/>
<rect x="560.72" y="225.4" width="3.0" height="1.40" fill="#de4715"/>
<rect x="564.57" y="195.1" width="3.0" height="31.70" fill="#072a37"/>
<rect x="568.42" y="195.1" width="3.0" height="10.20" fill="#de4715"/>
<rect x="572.27" y="203.0" width="3.0" height="1.80" fill="#072a37"/>
<rect x="576.12" y="203.0" width="3.0" height="2.50" fill="#de4715"/>
<rect x="579.96" y="205.3" width="3.0" height="16.40" fill="#de4715"/>
<rect x="583.81" y="221.0" width="3.0" height="23.20" fill="#de4715"/>
<rect x="587.66" y="226.3" width="3.0" height="17.00" fill="#072a37"/>
<rect x="591.51" y="226.3" width="3.0" height="8.90" fill="#de4715"/>
<rect x="595.36" y="224.5" width="3.0" height="10.70" fill="#072a37"/>
<rect x="599.21" y="179.7" width="3.0" height="45.10" fill="#072a37"/>
<rect x="603.06" y="176.1" width="3.0" height="3.60" fill="#072a37"/>
<rect x="606.91" y="176.1" width="3.0" height="52.10" fill="#de4715"/>
<rect x="610.76" y="227.2" width="3.0" height="1.30" fill="#072a37"/>
<rect x="614.61" y="223.5" width="3.0" height="3.50" fill="#072a37"/>
<rect x="618.45" y="208.3" width="3.0" height="15.20" fill="#072a37"/>
<rect x="622.30" y="208.3" width="3.0" height="30.40" fill="#de4715"/>
<rect x="626.15" y="237.9" width="3.0" height="8.60" fill="#de4715"/>
<rect x="630.00" y="241.1" width="3.0" height="5.70" fill="#072a37"/>
<rect x="633.85" y="226.8" width="3.0" height="14.30" fill="#072a37"/>
<rect x="637.70" y="206.9" width="3.0" height="19.60" fill="#072a37"/>
<rect x="641.55" y="206.9" width="3.0" height="18.50" fill="#de4715"/>
<rect x="645.40" y="223.6" width="3.0" height="1.70" fill="#072a37"/>
<rect x="649.25" y="203.9" width="3.0" height="20.50" fill="#072a37"/>
<rect x="653.10" y="186.3" width="3.0" height="17.70" fill="#072a37"/>
<rect x="656.94" y="186.5" width="3.0" height="17.40" fill="#de4715"/>
<rect x="660.79" y="148.5" width="3.0" height="55.40" fill="#072a37"/>
<rect x="664.64" y="117.2" width="3.0" height="31.30" fill="#072a37"/>
<rect x="668.49" y="95.4" width="3.0" height="22.20" fill="#072a37"/>
<rect x="672.34" y="95.4" width="3.0" height="16.80" fill="#de4715"/>
<rect x="676.19" y="112.2" width="3.0" height="2.30" fill="#de4715"/>
<rect x="680.04" y="114.0" width="3.0" height="23.40" fill="#de4715"/>
<rect x="683.89" y="137.4" width="3.0" height="44.40" fill="#de4715"/>
<rect x="687.74" y="169.2" width="3.0" height="12.60" fill="#072a37"/>
<rect x="691.59" y="140.7" width="3.0" height="28.50" fill="#072a37"/>
<rect x="695.43" y="141.0" width="3.0" height="31.60" fill="#de4715"/>
<rect x="699.28" y="89.6" width="3.0" height="83.20" fill="#072a37"/>
<rect x="703.13" y="90.4" width="3.0" height="7.10" fill="#de4715"/>
<rect x="706.98" y="97.4" width="3.0" height="57.90" fill="#de4715"/>
<rect x="710.83" y="154.9" width="3.0" height="8.90" fill="#de4715"/>
<rect x="714.68" y="163.9" width="3.0" height="7.80" fill="#de4715"/>
<rect x="718.53" y="171.5" width="3.0" height="25.90" fill="#de4715"/>
<rect x="722.38" y="188.0" width="3.0" height="9.40" fill="#072a37"/>
<rect x="726.23" y="188.0" width="3.0" height="58.90" fill="#de4715"/>
<rect x="730.08" y="246.9" width="3.0" height="1.40" fill="#de4715"/>
<rect x="733.92" y="243.8" width="3.0" height="4.50" fill="#072a37"/>
<rect x="737.77" y="243.8" width="3.0" height="6.30" fill="#de4715"/>
<rect x="741.62" y="250.1" width="3.0" height="23.30" fill="#de4715"/>
<rect x="745.47" y="248.3" width="3.0" height="25.10" fill="#072a37"/>
<rect x="749.32" y="234.9" width="3.0" height="13.40" fill="#072a37"/>
<rect x="753.17" y="221.0" width="3.0" height="13.90" fill="#072a37"/>
<rect x="757.02" y="221.0" width="3.0" height="2.40" fill="#de4715"/>
<rect x="760.87" y="192.0" width="3.0" height="31.40" fill="#072a37"/>
<rect x="764.72" y="192.0" width="3.0" height="6.70" fill="#de4715"/>
<rect x="768.57" y="192.0" width="3.0" height="6.70" fill="#072a37"/>
<rect x="772.41" y="192.6" width="3.0" height="20.20" fill="#de4715"/>
<rect x="776.26" y="212.6" width="3.0" height="2.20" fill="#de4715"/>
<rect x="780.11" y="214.8" width="3.0" height="6.70" fill="#de4715"/>
<rect x="783.96" y="221.2" width="3.0" height="24.40" fill="#de4715"/>
<rect x="787.81" y="218.0" width="3.0" height="27.60" fill="#072a37"/>
<rect x="791.66" y="217.8" width="3.0" height="1.10" fill="#072a37"/>
<rect x="795.51" y="204.0" width="3.0" height="14.00" fill="#072a37"/>
<rect x="799.36" y="181.3" width="3.0" height="23.10" fill="#072a37"/>
<rect x="803.21" y="173.6" width="3.0" height="8.00" fill="#072a37"/>
<rect x="807.06" y="173.6" width="3.0" height="31.90" fill="#de4715"/>
<rect x="810.90" y="179.5" width="3.0" height="26.00" fill="#072a37"/>
<rect x="814.75" y="168.6" width="3.0" height="10.90" fill="#072a37"/>
<rect x="818.60" y="153.6" width="3.0" height="15.20" fill="#072a37"/>
<rect x="822.45" y="151.8" width="3.0" height="1.80" fill="#072a37"/>
<rect x="826.30" y="151.7" width="3.0" height="1.00" fill="#072a37"/>
<rect x="830.15" y="105.7" width="3.0" height="46.60" fill="#072a37"/>
<rect x="834.00" y="105.7" width="3.0" height="5.80" fill="#de4715"/>
<rect x="837.85" y="111.5" width="3.0" height="38.50" fill="#de4715"/>
<rect x="841.70" y="123.1" width="3.0" height="26.90" fill="#072a37"/>
<rect x="845.55" y="123.1" width="3.0" height="38.50" fill="#de4715"/>
<rect x="849.39" y="161.6" width="3.0" height="9.00" fill="#de4715"/>
<rect x="853.24" y="161.6" width="3.0" height="9.00" fill="#072a37"/>
<rect x="857.09" y="161.4" width="3.0" height="14.30" fill="#de4715"/>
<rect x="860.94" y="175.7" width="3.0" height="25.60" fill="#de4715"/>
<rect x="864.79" y="200.8" width="3.0" height="35.80" fill="#de4715"/>
<rect x="868.64" y="236.3" width="3.0" height="11.40" fill="#de4715"/>
<line x1="0" y1="248.3" x2="942" y2="248.3" stroke="#de4715" stroke-opacity="0.27" stroke-width="1" stroke-dasharray="2 0.8"/>
<polygon points="888.8,175.9 898.8,131.5 894.5,131.1 908.5,119.2 912.4,136.8 908.5,134.8" fill="#4caf50"/>
<polygon points="892.2,233.7 903.2,279.5 898.1,279.5 912.2,291.3 916.1,273.7 911,275.3" fill="#f23645"/>
<rect x="971" y="0" width="1" height="447" fill="#ececec"/><rect x="972" y="0" width="1" height="447" fill="#e3e3e3"/><rect x="973" y="0" width="1" height="447" fill="#ebebeb"/><rect x="974" y="0" width="1" height="447" fill="#f8f8f8"/>
<rect x="0" y="0" width="975" height="1" fill="#f0f0f0"/>
<text x="946.9" y="37.25" font-family="'Liberation Sans', Arial, sans-serif" font-size="6.6" fill="#131722" stroke="#131722" stroke-width="0.15">300.00</text>
<text x="946.9" y="61.88" font-family="'Liberation Sans', Arial, sans-serif" font-size="6.6" fill="#131722" stroke="#131722" stroke-width="0.15">280.00</text>
<text x="946.9" y="86.51" font-family="'Liberation Sans', Arial, sans-serif" font-size="6.6" fill="#131722" stroke="#131722" stroke-width="0.15">260.00</text>
<text x="946.9" y="111.13" font-family="'Liberation Sans', Arial, sans-serif" font-size="6.6" fill="#131722" stroke="#131722" stroke-width="0.15">240.00</text>
<text x="946.9" y="135.76" font-family="'Liberation Sans', Arial, sans-serif" font-size="6.6" fill="#131722" stroke="#131722" stroke-width="0.15">220.00</text>
<text x="946.9" y="160.39" font-family="'Liberation Sans', Arial, sans-serif" font-size="6.6" fill="#131722" stroke="#131722" stroke-width="0.15">200.00</text>
<text x="946.9" y="185.02" font-family="'Liberation Sans', Arial, sans-serif" font-size="6.6" fill="#131722" stroke="#131722" stroke-width="0.15">180.00</text>
<text x="946.9" y="209.65" font-family="'Liberation Sans', Arial, sans-serif" font-size="6.6" fill="#131722" stroke="#131722" stroke-width="0.15">160.00</text>
<text x="946.9" y="234.27" font-family="'Liberation Sans', Arial, sans-serif" font-size="6.6" fill="#131722" stroke="#131722" stroke-width="0.15">140.00</text>
<text x="946.9" y="283.53" font-family="'Liberation Sans', Arial, sans-serif" font-size="6.6" fill="#131722" stroke="#131722" stroke-width="0.15">100.00</text>
<text x="946.9" y="308.16" font-family="'Liberation Sans', Arial, sans-serif" font-size="6.6" fill="#131722" stroke="#131722" stroke-width="0.15">80.00</text>
<text x="946.9" y="332.79" font-family="'Liberation Sans', Arial, sans-serif" font-size="6.6" fill="#131722" stroke="#131722" stroke-width="0.15">60.00</text>
<text x="946.9" y="357.41" font-family="'Liberation Sans', Arial, sans-serif" font-size="6.6" fill="#131722" stroke="#131722" stroke-width="0.15">40.00</text>
<text x="946.9" y="382.04" font-family="'Liberation Sans', Arial, sans-serif" font-size="6.6" fill="#131722" stroke="#131722" stroke-width="0.15">20.00</text>
<text x="946.9" y="406.67" font-family="'Liberation Sans', Arial, sans-serif" font-size="6.6" fill="#131722" stroke="#131722" stroke-width="0.15">0.00</text>
<text x="946.9" y="431.30" font-family="'Liberation Sans', Arial, sans-serif" font-size="6.6" fill="#131722" stroke="#131722" stroke-width="0.15">−20.00</text>
<rect x="942.8" y="183.1" width="26.1" height="9.4" rx="0.8" fill="#2962ff"/>
<text x="966.5" y="190.4" font-family="'Liberation Sans', Arial, sans-serif" font-size="6.6" fill="#ffffff" text-anchor="end">175.69</text>
<rect x="942.8" y="243.7" width="26.1" height="16.5" rx="0.8" fill="#e04a14"/>
<text x="966.5" y="250.6" font-family="'Liberation Sans', Arial, sans-serif" font-size="6.6" fill="#ffffff" text-anchor="end">126.80</text>
<text x="966.5" y="258.2" font-family="'Liberation Sans', Arial, sans-serif" font-size="6.6" fill="#ffffff" text-anchor="end">1d 13h</text>
<text x="57.75" y="443.2" font-family="'Liberation Sans', Arial, sans-serif" font-size="6.6" font-weight="normal" fill="#131722" stroke="#131722" stroke-width="0.15" text-anchor="middle">Nov</text>
<text x="92.39" y="443.2" font-family="'Liberation Sans', Arial, sans-serif" font-size="6.6" font-weight="bold" fill="#131722" stroke="#131722" stroke-width="0.05" text-anchor="middle">2022</text>
<text x="127.03" y="443.2" font-family="'Liberation Sans', Arial, sans-serif" font-size="6.6" font-weight="normal" fill="#131722" stroke="#131722" stroke-width="0.15" text-anchor="middle">Mar</text>
<text x="157.82" y="443.2" font-family="'Liberation Sans', Arial, sans-serif" font-size="6.6" font-weight="normal" fill="#131722" stroke="#131722" stroke-width="0.15" text-anchor="middle">May</text>
<text x="192.47" y="443.2" font-family="'Liberation Sans', Arial, sans-serif" font-size="6.6" font-weight="normal" fill="#131722" stroke="#131722" stroke-width="0.15" text-anchor="middle">Jul</text>
<text x="227.11" y="443.2" font-family="'Liberation Sans', Arial, sans-serif" font-size="6.6" font-weight="normal" fill="#131722" stroke="#131722" stroke-width="0.15" text-anchor="middle">Sep</text>
<text x="261.75" y="443.2" font-family="'Liberation Sans', Arial, sans-serif" font-size="6.6" font-weight="normal" fill="#131722" stroke="#131722" stroke-width="0.15" text-anchor="middle">Nov</text>
<text x="292.54" y="443.2" font-family="'Liberation Sans', Arial, sans-serif" font-size="6.6" font-weight="bold" fill="#131722" stroke="#131722" stroke-width="0.05" text-anchor="middle">2023</text>
<text x="327.18" y="443.2" font-family="'Liberation Sans', Arial, sans-serif" font-size="6.6" font-weight="normal" fill="#131722" stroke="#131722" stroke-width="0.15" text-anchor="middle">Mar</text>
<text x="357.97" y="443.2" font-family="'Liberation Sans', Arial, sans-serif" font-size="6.6" font-weight="normal" fill="#131722" stroke="#131722" stroke-width="0.15" text-anchor="middle">May</text>
<text x="392.61" y="443.2" font-family="'Liberation Sans', Arial, sans-serif" font-size="6.6" font-weight="normal" fill="#131722" stroke="#131722" stroke-width="0.15" text-anchor="middle">Jul</text>
<text x="427.25" y="443.2" font-family="'Liberation Sans', Arial, sans-serif" font-size="6.6" font-weight="normal" fill="#131722" stroke="#131722" stroke-width="0.15" text-anchor="middle">Sep</text>
<text x="461.90" y="443.2" font-family="'Liberation Sans', Arial, sans-serif" font-size="6.6" font-weight="normal" fill="#131722" stroke="#131722" stroke-width="0.15" text-anchor="middle">Nov</text>
<text x="492.69" y="443.2" font-family="'Liberation Sans', Arial, sans-serif" font-size="6.6" font-weight="bold" fill="#131722" stroke="#131722" stroke-width="0.05" text-anchor="middle">2024</text>
<text x="527.33" y="443.2" font-family="'Liberation Sans', Arial, sans-serif" font-size="6.6" font-weight="normal" fill="#131722" stroke="#131722" stroke-width="0.15" text-anchor="middle">Mar</text>
<text x="561.97" y="443.2" font-family="'Liberation Sans', Arial, sans-serif" font-size="6.6" font-weight="normal" fill="#131722" stroke="#131722" stroke-width="0.15" text-anchor="middle">May</text>
<text x="592.76" y="443.2" font-family="'Liberation Sans', Arial, sans-serif" font-size="6.6" font-weight="normal" fill="#131722" stroke="#131722" stroke-width="0.15" text-anchor="middle">Jul</text>
<text x="627.40" y="443.2" font-family="'Liberation Sans', Arial, sans-serif" font-size="6.6" font-weight="normal" fill="#131722" stroke="#131722" stroke-width="0.15" text-anchor="middle">Sep</text>
<text x="662.04" y="443.2" font-family="'Liberation Sans', Arial, sans-serif" font-size="6.6" font-weight="normal" fill="#131722" stroke="#131722" stroke-width="0.15" text-anchor="middle">Nov</text>
<text x="696.68" y="443.2" font-family="'Liberation Sans', Arial, sans-serif" font-size="6.6" font-weight="bold" fill="#131722" stroke="#131722" stroke-width="0.05" text-anchor="middle">2025</text>
<text x="727.48" y="443.2" font-family="'Liberation Sans', Arial, sans-serif" font-size="6.6" font-weight="normal" fill="#131722" stroke="#131722" stroke-width="0.15" text-anchor="middle">Mar</text>
<text x="762.12" y="443.2" font-family="'Liberation Sans', Arial, sans-serif" font-size="6.6" font-weight="normal" fill="#131722" stroke="#131722" stroke-width="0.15" text-anchor="middle">May</text>
<text x="796.76" y="443.2" font-family="'Liberation Sans', Arial, sans-serif" font-size="6.6" font-weight="normal" fill="#131722" stroke="#131722" stroke-width="0.15" text-anchor="middle">Jul</text>
<text x="827.55" y="443.2" font-family="'Liberation Sans', Arial, sans-serif" font-size="6.6" font-weight="normal" fill="#131722" stroke="#131722" stroke-width="0.15" text-anchor="middle">Sep</text>
<text x="862.19" y="443.2" font-family="'Liberation Sans', Arial, sans-serif" font-size="6.6" font-weight="normal" fill="#131722" stroke="#131722" stroke-width="0.15" text-anchor="middle">Nov</text>
<text x="896.83" y="443.2" font-family="'Liberation Sans', Arial, sans-serif" font-size="6.6" font-weight="bold" fill="#131722" stroke="#131722" stroke-width="0.05" text-anchor="middle">2026</text>
<text x="927.62" y="443.2" font-family="'Liberation Sans', Arial, sans-serif" font-size="6.6" font-weight="normal" fill="#131722" stroke="#131722" stroke-width="0.15" text-anchor="middle">Mar</text>
<g transform="translate(957,441.4)" fill="none" stroke="#2a2e39" stroke-width="0.7"><polygon points="3.6,0 1.8,3.1 -1.8,3.1 -3.6,0 -1.8,-3.1 1.8,-3.1"/><circle cx="0" cy="0" r="1.2"/></g>
<rect x="944.5" y="2.8" width="24.3" height="13.4" rx="2.5" fill="#ffffff" stroke="#eeeeee" stroke-width="0.8"/>
<text x="946.2" y="11.8" font-family="'Liberation Sans', Arial, sans-serif" font-size="6.6" letter-spacing="-0.3" fill="#131722">USD</text>
<polygon points="963,9 967,9 965,11.2" fill="#333"/>
<g fill="#131722"><path d="M3.9,417.8 H10.4 V426 H6.9 V421.4 H3.9 Z"/><circle cx="12.4" cy="419.6" r="1.6"/><path d="M15.4,417.8 H19.5 L16.2,426 H12.3 Z"/></g>
<text x="24.1" y="425.6" font-family="'Liberation Sans', Arial, sans-serif" font-size="10.6" font-weight="bold" letter-spacing="0.22" fill="#131722">TradingView</text>
<circle cx="870.4" cy="412.9" r="5.1" fill="#ffffff" stroke="#a23cc8" stroke-width="0.9"/>
<path d="M870.6,409.2 L873.1,409.2 L871.5,411.9 L873.2,411.9 L868.5,416.9 L869.8,413.5 L868.1,413.5 Z" fill="#a23cc8"/>
<path d="M864.2,412.9 L865,414.5 L866.6,415.3 L865,416.1 L864.2,417.7 L863.4,416.1 L861.8,415.3 L863.4,414.5 Z" fill="#6a4cf6"/>
<defs><clipPath id="fc1"><circle cx="874.6" cy="426.2" r="4.3"/></clipPath><clipPath id="fc2"><circle cx="868.7" cy="426.2" r="4.3"/></clipPath></defs>
<circle cx="874.6" cy="426.2" r="4.7" fill="#ffffff" stroke="#f23645" stroke-width="0.9"/><g clip-path="url(#fc1)"><rect x="869.6" y="423.2" width="10" height="0.9" fill="#f23645"/><rect x="869.6" y="425.1" width="10" height="0.9" fill="#f23645"/><rect x="869.6" y="427.0" width="10" height="0.9" fill="#f23645"/><rect x="869.6" y="428.9" width="10" height="0.9" fill="#f23645"/></g>
<circle cx="868.7" cy="426.2" r="4.7" fill="#ffffff" stroke="#f23645" stroke-width="0.9"/><g clip-path="url(#fc2)"><rect x="863.7" y="423.2" width="10" height="0.9" fill="#f23645"/><rect x="863.7" y="425.1" width="10" height="0.9" fill="#f23645"/><rect x="863.7" y="427.0" width="10" height="0.9" fill="#f23645"/><rect x="863.7" y="428.9" width="10" height="0.9" fill="#f23645"/><rect x="863.7" y="421" width="5.2" height="5.1" fill="#4b93e6"/></g>
</svg>

<div style="position:absolute;left:0;top:0;width:975px;height:447px;font-family:'Liberation Sans',Arial,sans-serif;-webkit-text-stroke:0.12px currentColor;">
 <div style="position:absolute;left:1.85px;top:4.4px;width:9.2px;height:9.2px;border-radius:50%;background:#e2f3ef;"></div>
 <div style="position:absolute;left:4.15px;top:6.7px;width:4.6px;height:4.6px;border-radius:50%;background:#089981;"></div>
 <div style="position:absolute;left:15.4px;top:4.8px;font-size:7px;line-height:9px;white-space:nowrap;color:#131722;">O</div>
 <div style="position:absolute;left:21.0px;top:4.8px;font-size:7px;line-height:9px;white-space:nowrap;color:#e04a14;">136.17</div>
 <div style="position:absolute;left:45.1px;top:4.8px;font-size:7px;line-height:9px;white-space:nowrap;color:#131722;">H</div>
 <div style="position:absolute;left:50.8px;top:4.8px;font-size:7px;line-height:9px;white-space:nowrap;color:#e04a14;">144.52</div>
 <div style="position:absolute;left:74.4px;top:4.8px;font-size:7px;line-height:9px;white-space:nowrap;color:#131722;">L</div>
 <div style="position:absolute;left:79.5px;top:4.8px;font-size:7px;line-height:9px;white-space:nowrap;color:#e04a14;">121.40</div>
 <div style="position:absolute;left:102.9px;top:4.8px;font-size:7px;line-height:9px;white-space:nowrap;color:#131722;">C</div>
 <div style="position:absolute;left:107.8px;top:4.8px;font-size:7px;line-height:9px;white-space:nowrap;color:#e04a14;">126.80</div>
 <div style="position:absolute;left:132.2px;top:4.8px;font-size:7px;line-height:9px;white-space:nowrap;color:#e04a14;">−9.38</div>
 <div style="position:absolute;left:150.8px;top:4.8px;font-size:7px;line-height:9px;white-space:nowrap;color:#e04a14;letter-spacing:-0.28px;">(−6.89%)</div>
 <div style="position:absolute;left:1.1px;top:17.2px;width:31.8px;height:17.3px;border:1px solid #f8b3b9;border-radius:3.4px;background:#fff;"></div>
 <div style="position:absolute;left:1.1px;top:19.4px;width:33.8px;text-align:center;font-size:7px;line-height:7px;color:#f23645;">126.80</div>
 <div style="position:absolute;left:1.1px;top:27.1px;width:33.8px;text-align:center;font-size:6.2px;line-height:7px;color:#f23645;letter-spacing:-0.45px;">SELL</div>
 <div style="position:absolute;left:39.2px;top:23.9px;font-size:5.6px;line-height:6px;color:#131722;letter-spacing:-0.1px;">0.54</div>
 <div style="position:absolute;left:53.5px;top:17.3px;width:31.9px;height:16.7px;border:1px solid #a7c0fa;border-radius:3.4px;background:#fff;"></div>
 <div style="position:absolute;left:53.5px;top:19.4px;width:33.9px;text-align:center;font-size:7px;line-height:7px;color:#2962ff;letter-spacing:-0.1px;">127.34</div>
 <div style="position:absolute;left:53.5px;top:27.1px;width:33.9px;text-align:center;font-size:6.2px;line-height:7px;color:#2962ff;letter-spacing:-0.3px;">BUY</div>
 <div style="position:absolute;left:2px;top:40.8px;font-size:7.1px;line-height:8px;white-space:nowrap;color:#131722;letter-spacing:-0.28px;">SMA 50 close</div>
 <div style="position:absolute;left:46.6px;top:40.8px;font-size:7.1px;line-height:8px;white-space:nowrap;color:#2962ff;letter-spacing:-0.1px;">175.69</div>
 <div style="position:absolute;left:2px;top:52.8px;width:14.4px;height:10px;border:0.7px solid #e6e6e6;border-radius:2px;background:#fff;"></div>
 <svg style="position:absolute;left:0;top:0" width="20" height="70"><polyline points="7.2,59.8 9.4,57.6 11.6,59.8" fill="none" stroke="#131722" stroke-width="0.9"/></svg>
</div>

</body></html>
